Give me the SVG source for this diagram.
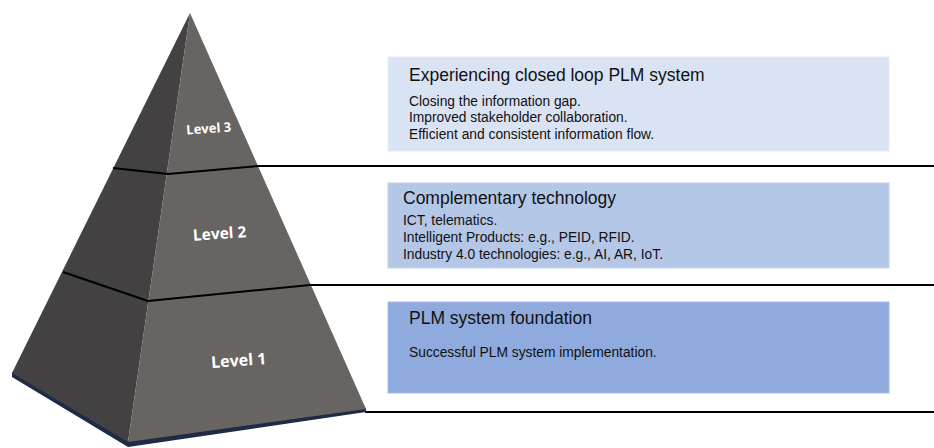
<svg xmlns="http://www.w3.org/2000/svg" width="934" height="448" viewBox="0 0 934 448">
  <style>
    .face-l { fill: #434141; }
    .face-r { fill: #676462; }
    .base { fill: #1e2b47; }
    .divider { fill: none; stroke: #000; stroke-width: 2; stroke-linejoin: round; }
    .lvl { font-family: "Open Sans", "Liberation Sans", sans-serif; font-weight: 700; fill: #ffffff; text-anchor: middle; }
    .title { font-family: "Liberation Sans", Arial, sans-serif; font-size: 17.5px; fill: #111; }
    .body { font-family: "Liberation Sans", Arial, sans-serif; font-size: 13.8px; fill: #111; }
    .rule { stroke: #000; stroke-width: 2; }
  </style>

  <rect width="934" height="448" fill="#ffffff"/>

  <!-- pyramid body -->
  <g id="pyramid">
    <polygon class="base" points="12,372 128,440 366,408 366,412 128,447 12,377"/>
    <polygon class="face-l" points="190,13 12,373 128,442"/>
    <polygon class="face-r" points="190,13 128,442 366,409"/>
    <polyline class="divider" points="113,168 168,174 258,166"/>
    <polyline class="divider" points="63,272 148,301 310,285"/>
  </g>

  <!-- tier labels -->
  <g id="level-3">
    <text class="lvl" font-size="13" transform="translate(209,133) rotate(-4)">Level 3</text>
  </g>
  <g id="level-2">
    <text class="lvl" font-size="15.5" transform="translate(220,239) rotate(-4)">Level 2</text>
  </g>
  <g id="level-1">
    <text class="lvl" font-size="16" transform="translate(239,366) rotate(-4)">Level 1</text>
  </g>

  <!-- leader rules from the pyramid to the boxes -->
  <g id="connectors">
    <line class="rule" x1="258" y1="166" x2="934" y2="166"/>
    <line class="rule" x1="310" y1="285" x2="934" y2="285"/>
    <line class="rule" x1="365" y1="412" x2="934" y2="412"/>
  </g>

  <!-- description boxes -->
  <g id="box-3">
    <rect x="388" y="57" width="501" height="94" fill="#dae3f3" stroke="#e4ebf6" stroke-width="1"/>
    <text class="title" x="409" y="81">Experiencing closed loop PLM system</text>
    <text class="body" x="409" y="106">Closing the information gap.</text>
    <text class="body" x="409" y="122">Improved stakeholder collaboration.</text>
    <text class="body" x="409" y="139">Efficient and consistent information flow.</text>
  </g>

  <g id="box-2">
    <rect x="388" y="183" width="501" height="85" fill="#b4c7e7" stroke="#c2d1ec" stroke-width="1"/>
    <text class="title" x="403" y="204">Complementary technology</text>
    <text class="body" x="403" y="225">ICT, telematics.</text>
    <text class="body" x="403" y="242">Intelligent Products: e.g., PEID, RFID.</text>
    <text class="body" x="403" y="259">Industry 4.0 technologies: e.g., AI, AR, IoT.</text>
  </g>

  <g id="box-1">
    <rect x="388" y="302" width="501" height="91" fill="#8faadc" stroke="#a6bce4" stroke-width="1"/>
    <text class="title" x="409" y="324">PLM system foundation</text>
    <text class="body" x="409" y="357">Successful PLM system implementation.</text>
  </g>
</svg>
